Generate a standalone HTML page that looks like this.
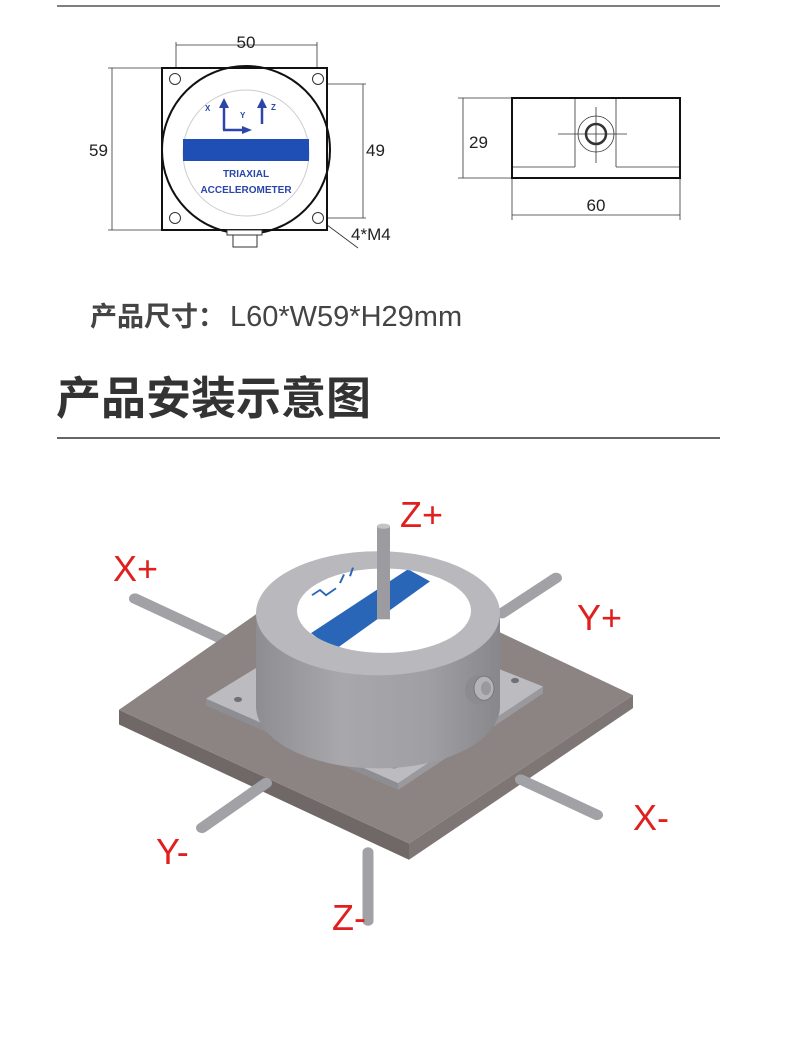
<!DOCTYPE html>
<html><head><meta charset="utf-8"><style>
html,body{margin:0;padding:0;background:#fff;}
body{width:790px;height:1039px;position:relative;overflow:hidden;}
svg{position:absolute;left:0;top:0;}
</style></head><body>
<svg width="790" height="1039" viewBox="0 0 790 1039" xmlns="http://www.w3.org/2000/svg">
<defs>
<clipPath id="wc"><ellipse cx="384" cy="630" rx="87" ry="49"/></clipPath>
<linearGradient id="cyl" x1="0" x2="1" y1="0" y2="0">
<stop offset="0" stop-color="#8e8e92"/><stop offset="0.35" stop-color="#a8a8ac"/><stop offset="0.7" stop-color="#a0a0a4"/><stop offset="1" stop-color="#88888c"/></linearGradient>
</defs>
<line x1="57" y1="6" x2="720" y2="6" stroke="#333" stroke-width="1.2"/>
<g stroke="#333" fill="none" stroke-width="0.8">
<line x1="176" y1="45" x2="317" y2="45"/><line x1="176" y1="42" x2="176" y2="75"/><line x1="317" y1="42" x2="317" y2="75"/>
<line x1="112" y1="68" x2="112" y2="230"/><line x1="108" y1="68" x2="162" y2="68"/><line x1="108" y1="230" x2="162" y2="230"/>
<line x1="363" y1="84" x2="363" y2="218"/><line x1="322" y1="84" x2="366" y2="84"/><line x1="322" y1="218" x2="366" y2="218"/>
<line x1="315" y1="216" x2="358" y2="248"/>
</g>
<rect x="162" y="68" width="165" height="162" fill="#fff" stroke="#111" stroke-width="2"/>
<circle cx="246" cy="150" r="84" fill="#fff" stroke="#111" stroke-width="2"/>
<rect x="162" y="68" width="165" height="162" fill="none" stroke="#111" stroke-width="2"/>
<circle cx="246" cy="153" r="63" fill="#fff" stroke="#ccc" stroke-width="1"/>
<rect x="183" y="139" width="126" height="22" fill="#1f4fb5"/>
<g fill="#2b46a8" stroke="#2b46a8" stroke-width="2.5">
<line x1="224" y1="130" x2="224" y2="106" /><line x1="223" y1="130" x2="244" y2="130"/><line x1="262" y1="124" x2="262" y2="106"/>
</g>
<polygon points="219,108 224,98 229,108" fill="#2b46a8"/><polygon points="257,108 262,98 267,108" fill="#2b46a8"/><polygon points="242,126 252,130 242,134" fill="#2b46a8"/>
<g font-family="Liberation Sans, sans-serif" font-weight="bold" font-size="8" fill="#2b46a8"><text x="205" y="111">X</text><text x="240" y="118">Y</text><text x="271" y="110">Z</text></g>
<g font-family="Liberation Sans, sans-serif" font-weight="bold" font-size="10" fill="#2b46a8" text-anchor="middle"><text x="246" y="177">TRIAXIAL</text><text x="246" y="193">ACCELEROMETER</text></g>
<g fill="#fff" stroke="#333" stroke-width="1"><circle cx="175" cy="79" r="5.5"/><circle cx="318" cy="79" r="5.5"/><circle cx="175" cy="218" r="5.5"/><circle cx="318" cy="218" r="5.5"/></g>
<rect x="227" y="230" width="35" height="5" fill="#fff" stroke="#333"/>
<rect x="233" y="235" width="24" height="12" fill="#fff" stroke="#333"/>
<g font-family="Liberation Sans, sans-serif" font-size="17" fill="#222">
<text x="246" y="48" text-anchor="middle">50</text><text x="89" y="156">59</text><text x="366" y="156">49</text><text x="351" y="240">4*M4</text>
<text x="469" y="148">29</text><text x="596" y="211" text-anchor="middle">60</text></g>
<g stroke="#333" fill="none" stroke-width="0.8">
<line x1="463" y1="98" x2="463" y2="178"/><line x1="458" y1="98" x2="512" y2="98"/><line x1="458" y1="178" x2="512" y2="178"/>
<line x1="512" y1="215" x2="680" y2="215"/><line x1="512" y1="178" x2="512" y2="220"/><line x1="680" y1="178" x2="680" y2="220"/>
<line x1="575" y1="98" x2="575" y2="167"/><line x1="616" y1="98" x2="616" y2="167"/>
<line x1="512" y1="167" x2="575" y2="167"/><line x1="616" y1="167" x2="680" y2="167"/>
<line x1="558" y1="134" x2="627" y2="134"/><line x1="596" y1="107" x2="596" y2="163"/>
<circle cx="596" cy="134" r="18"/>
</g>
<circle cx="596" cy="134" r="10" fill="none" stroke="#333" stroke-width="2.5"/>
<rect x="512" y="98" width="168" height="80" fill="none" stroke="#111" stroke-width="2"/>
<text x="90" y="326" font-family="Liberation Sans, 'Noto Sans CJK SC', sans-serif" font-size="27" fill="#444"><tspan font-weight="bold">产品尺寸：</tspan><tspan dx="5" font-size="29">L60*W59*H29mm</tspan></text>
<text x="56" y="414" font-family="'Noto Sans CJK SC', sans-serif" font-weight="bold" font-size="45" fill="#333">产品安装示意图</text>
<line x1="57" y1="438" x2="720" y2="438" stroke="#333" stroke-width="1.5"/>
<g transform="translate(0,490) scale(1,0.862) translate(0,-490)">
<g stroke-linecap="round">
<line x1="135" y1="616" x2="224" y2="664" stroke="#a2a2a6" stroke-width="12"/>
<line x1="502" y1="633" x2="556" y2="592" stroke="#a2a2a6" stroke-width="12"/>
</g>
<polygon points="119,745 409,900 409,919 119,762" fill="#6f6866"/>
<polygon points="409,900 633,728 633,743 409,919" fill="#7d7674"/>
<polygon points="119,745 339,567 633,728 409,900" fill="#8c8482"/>
<g stroke-linecap="round">
<line x1="202" y1="882" x2="266" y2="830" stroke="#a2a2a6" stroke-width="12"/>
<line x1="521" y1="826" x2="597" y2="867" stroke="#a2a2a6" stroke-width="12"/>
<line x1="368" y1="910" x2="368" y2="990" stroke="#a2a2a6" stroke-width="11"/>
</g>
<polygon points="206,732 398,830 398,838 206,740" fill="#8e8e92"/>
<polygon points="398,830 543,718 543,726 398,838" fill="#9a9a9e"/>
<polygon points="206,732 351,629 543,718 398,830" fill="#bcbcc0"/>
<g fill="#707074"><ellipse cx="238" cy="733" rx="4" ry="3"/><ellipse cx="394" cy="810" rx="4" ry="3"/><ellipse cx="515" cy="711" rx="4" ry="3"/></g>
<path d="M256,633 L256,741 A122,72 0 0 0 500,741 L500,633 Z" fill="url(#cyl)"/>
<ellipse cx="378" cy="633" rx="122" ry="72" fill="#b9b9bd"/>
<ellipse cx="384" cy="630" rx="87" ry="49" fill="#fff"/>
<polygon points="311,656 334,676 430,596 408,582" fill="#2a66b8" clip-path="url(#wc)"/>
<g stroke="#2a66b8" stroke-width="2" fill="none"><path d="M312,612 l8,-6 l6,6 l10,-8"/><path d="M340,598 l4,-10"/><path d="M350,590 l3,-10"/></g>
<ellipse cx="478" cy="722" rx="13" ry="17" fill="#8c8c90"/>
<ellipse cx="484" cy="720" rx="10" ry="14" fill="#b4b4b8" stroke="#777" stroke-width="1"/>
<ellipse cx="486" cy="720" rx="5" ry="8" fill="#9a9a9e"/>
<rect x="377" y="532" width="13" height="108" fill="#9c9ca0"/>
<ellipse cx="383.5" cy="532" rx="6.5" ry="3" fill="#c4c4c8"/>
</g>
<g font-family="Liberation Sans, sans-serif" font-size="36" fill="#e0201f">
<text x="400" y="527">Z+</text><text x="113" y="581">X+</text><text x="577" y="630">Y+</text>
<text x="633" y="830">X-</text><text x="156" y="864">Y-</text><text x="332" y="930">Z-</text></g>
</svg>
</body></html>
